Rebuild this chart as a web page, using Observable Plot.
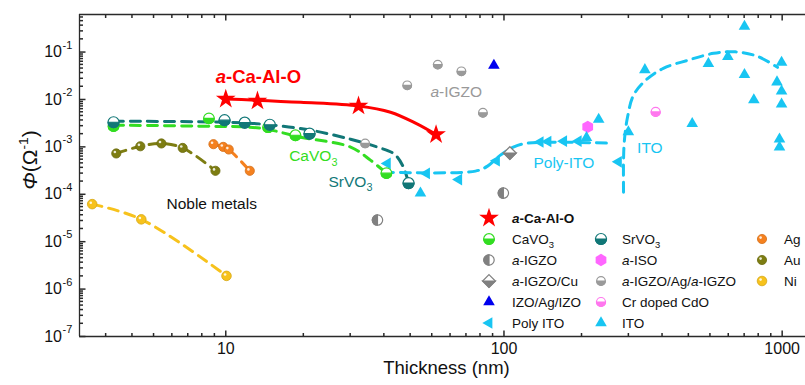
<!DOCTYPE html>
<html><head><meta charset="utf-8">
<script src="https://cdn.jsdelivr.net/npm/d3@7"></script>
<script src="https://cdn.jsdelivr.net/npm/@observablehq/plot@0.6"></script>
<style>
html,body{margin:0;padding:0;background:#fff;overflow:hidden;font-family:"Liberation Sans",Arial,sans-serif;}
#chart{position:relative;width:805px;height:385px;overflow:hidden;}
#chart svg{display:block;}
</style></head><body><div id="chart"></div>
<script>
// ---------- data (thickness nm, conductance Ω^-1) ----------
const caAlO     = [[10,0.0102],[13,0.0093],[30,0.0073],[57,0.00182]];
const caAlOFit  = [[10,0.0102],[18.6,0.00873],[30,0.0073],[39.1,0.00538],[48.1,0.00316],[57,0.00182]];
const caVO3     = [[3.95,0.00273],[8.7,0.0040],[14.2,0.0026],[17.8,0.00176],[37.8,0.000279]];
const caVO3Fit  = [[3.95,0.00286],[8.1,0.00273],[13.3,0.00248],[18.6,0.0016],[28.1,0.00099],[33.1,0.000525],[37.8,0.000279]];
const srVO3     = [[3.95,0.00331],[9.9,0.00365],[11.7,0.00324],[14.4,0.00293],[20,0.0019],[45.4,0.000172]];
const srVO3Fit  = [[3.95,0.00347],[10,0.00331],[13.7,0.0030],[20.2,0.00225],[28.1,0.00145],[35.1,0.000986],[40.4,0.0007],[43.5,0.000374],[45.4,0.000172]];
const igzo      = [[35.1,2.86e-5],[99.5,1.06e-4]];
const igzoCu    = [[105,7.4e-4]];
const izoAgIzo  = [[92,0.0525]];
const iso       = [[200,0.00264]];
const igzoAg    = [[31.7,0.00118],[44.9,0.0199],[57.8,0.0543],[70.3,0.0393],[84,0.00525]];
const crCdO     = [[351,0.00546]];
const polyITO   = [[38.1,4.48e-4],[52.7,2.76e-4],[68.8,2.04e-4],[94,5.1e-4],[135,1.27e-3],[144,1.3e-3],[164,1.32e-3],[185,1.32e-3],[258,4.83e-4]];
const polyITOFit= [[36.9,2.93e-4],[79,3.08e-4],[87.3,3.93e-4],[97.1,6.69e-4],[108,9.86e-4],[121.5,1.2e-3],[235,1.2e-3]];
const ito       = [[50.1,1.06e-4],[198,1.56e-3],[219,3.78e-3],[280,2.07e-3],[321,0.0422],[475,3.08e-3],[543,0.057],[638,0.080],[732,0.348],[732,0.0334],[791,9.77e-3],[958,0.0233],[995,0.0607],[995,0.0149],[995,7.93e-3],[978,1.45e-3],[978,9.86e-4]];
const itoFit    = [[269,1.11e-4],[269,5.25e-4],[271,1.38e-3],[278,4.22e-3],[292,0.0122],[323,0.0254],[374,0.0454],[457,0.0669],[567,0.094],[679,0.101],[815,0.0813],[962,0.0476]];
const ag        = [[9.03,1.14e-3],[9.79,1e-3],[10.25,8.8e-4],[12.2,3.13e-4]];
const au        = [[4.04,7.26e-4],[4.93,1.03e-3],[5.87,1.18e-3],[7.0,9.5e-4],[9.18,3.13e-4]];
const ni        = [[3.31,6.2e-5],[4.97,2.96e-5],[10.06,1.9e-6]];

// annotation texts and anchors (data units)
const annText = ["*a*-IGZO","CaVO_3","SrVO_3","Poly-ITO","ITO","Noble metals"];
const annX    = [54.4, 16.9, 23.4, 127.6, 301, 6.12];
const annY    = [0.0144, 6.37e-4, 1.85e-4, 4.47e-4, 9.25e-4, 6.2e-5];
const annCol  = ["#999999","#33dd22","#117777","#18c5f2","#18c5f2","#111111"];
const titleAnn = {text:"*a*-Ca-Al-O", x:9.2, y:0.0302};

// axis ticks / labels
const xDomain = [2.98, 1213];
const yDomain = [1e-7, 0.62];
const xMajor = [10, 100, 1000];
const yMajor = [1e-7,1e-6,1e-5,1e-4,1e-3,1e-2,1e-1];
const xDecades = [1,10,100,1000];
const yDecades = [1e-7,1e-6,1e-5,1e-4,1e-3,1e-2,1e-1];
const minorSteps = [1.9,2.8,3.7,4.6,5.5,6.4,7.3,8.2,9.1];
const xMinor = xDecades.flatMap(d => minorSteps.map(k => d*k)).filter(v => v > xDomain[0] && v < xDomain[1]);
const yMinor = yDecades.flatMap(d => minorSteps.map(k => d*k)).filter(v => v > yDomain[0] && v < yDomain[1]);

// colours
const C = {red:"#ff0000", green:"#33dd22", teal:"#117777", gray:"#808080", lgray:"#9a9a9a",
  blue:"#0000ee", mag:"#ff66ff", pink:"#ff77ee", cyan:"#18c5f2", ag:"#f5811f", au:"#7d7d12", ni:"#f7c21c"};

// ---------- symbols ----------
const S3 = Math.sqrt(3);
const rOf = s => Math.sqrt(s/Math.PI);
const symCircle = {draw(c,s){const r=rOf(s); c.moveTo(r,0); c.arc(0,0,r,0,2*Math.PI); c.closePath();}};
const symHalfBottom = {draw(c,s){const r=rOf(s); c.moveTo(r,0); c.arc(0,0,r,0,Math.PI); c.closePath();}};
const symHalfLeft = {draw(c,s){const r=rOf(s); c.moveTo(0,r); c.arc(0,0,r,Math.PI/2,1.5*Math.PI); c.closePath();}};
const symDiamond = {draw(c,s){const r=rOf(s)*1.2; c.moveTo(0,-r); c.lineTo(r,0); c.lineTo(0,r); c.lineTo(-r,0); c.closePath();}};
const symDiamondBottom = {draw(c,s){const r=rOf(s)*1.2; c.moveTo(-r,0); c.lineTo(r,0); c.lineTo(0,r); c.closePath();}};
const symTriUp = {draw(c,s){const h=rOf(s)*1.35; c.moveTo(0,-2*h/S3); c.lineTo(h,h/S3); c.lineTo(-h,h/S3); c.closePath();}};
const symTriLeft = {draw(c,s){const h=rOf(s)*1.35; c.moveTo(-2*h/S3,0); c.lineTo(h/S3,-h); c.lineTo(h/S3,h); c.closePath();}};
const symHex = {draw(c,s){const r=rOf(s); for(let i=0;i<6;i++){const a=Math.PI/3*i - Math.PI/2; const px=r*Math.cos(a), py=r*Math.sin(a); if(i) c.lineTo(px,py); else c.moveTo(px,py);} c.closePath();}};
const tickSym = (dx,dy) => ({draw(c){c.moveTo(0,0); c.lineTo(dx,dy);}});

// marker specs
const spec = {
  caAlO:  {kind:"solid", sym:d3.symbolStar, r:6.2, color:C.red},
  caVO3:  {kind:"half", sym:symCircle, half:symHalfBottom, r:5.3, color:C.green},
  srVO3:  {kind:"half", sym:symCircle, half:symHalfBottom, r:5.5, color:C.teal},
  igzo:   {kind:"half", sym:symCircle, half:symHalfLeft, r:5.2, color:C.gray},
  igzoCu: {kind:"half", sym:symDiamond, half:symDiamondBottom, r:5.3, color:C.gray},
  izo:    {kind:"solid", sym:symTriUp, r:4.3, color:C.blue},
  iso:    {kind:"solid", sym:symHex, r:6.2, color:C.mag},
  igzoAg: {kind:"half", sym:symCircle, half:symHalfBottom, r:4.3, color:C.lgray},
  crCdO:  {kind:"half", sym:symCircle, half:symHalfBottom, r:4.5, color:C.pink},
  poly:   {kind:"solid", sym:symTriLeft, r:4.3, color:C.cyan},
  ito:    {kind:"solid", sym:symTriUp, r:4.3, color:C.cyan},
  ag:     {kind:"ball", sym:symCircle, r:4.6, color:C.ag},
  au:     {kind:"ball", sym:symCircle, r:4.6, color:C.au},
  ni:     {kind:"ball", sym:symCircle, r:4.8, color:C.ni}
};

const XY = {x: d => d[0], y: d => d[1]};
function markers(data, sp){
  const b = {...XY, r: sp.r};
  if (sp.kind === "half") return [
    Plot.dot(data, {...b, symbol: sp.sym, fill:"white", stroke: sp.color, strokeWidth:1.2}),
    Plot.dot(data, {...b, symbol: sp.half, fill: sp.color, stroke: sp.color, strokeWidth:1.2})
  ];
  if (sp.kind === "ball") return [
    Plot.dot(data, {...b, symbol: sp.sym, fill: sp.color, stroke: d3.color(sp.color).darker(0.4).formatHex(), strokeWidth:0.8}),
    Plot.dot(data, {...XY, r:1.3, fill:"white", fillOpacity:0.85, dx:-1.4, dy:-1.4})
  ];
  return [Plot.dot(data, {...b, symbol: sp.sym, fill: sp.color, stroke:"none"})];
}
const dashLine = (data, color) => Plot.line(data, {...XY, stroke: color, strokeWidth:3, strokeDasharray:"10,7", curve:"catmull-rom"});

const FONT = "'Liberation Sans', Arial, Helvetica, sans-serif";
const AX = "#2a2a2a";

const plot = Plot.plot({
  width: 805, height: 385,
  marginLeft: 79, marginRight: 0, marginTop: 14, marginBottom: 49,
  x: {type:"log", domain: xDomain, axis: null},
  y: {type:"log", domain: yDomain, axis: null},
  style: {fontFamily: FONT, background:"white", overflow:"hidden"},
  marks: [
    // frame (left, bottom, top)
    Plot.ruleX([xDomain[0]], {stroke: AX, strokeWidth:1.3}),
    Plot.ruleY([yDomain[0]], {stroke: AX, strokeWidth:1.3}),
    Plot.ruleY([yDomain[1]], {stroke: AX, strokeWidth:1.3}),
    // ticks (inward)
    Plot.dot(yMajor, {y: d=>d, frameAnchor:"left", symbol: tickSym(6,0), stroke: AX, fill:"none", r:1}),
    Plot.dot(yMinor, {y: d=>d, frameAnchor:"left", symbol: tickSym(3.5,0), stroke: AX, fill:"none", r:1}),
    Plot.dot(xMajor, {x: d=>d, frameAnchor:"bottom", symbol: tickSym(0,-6), stroke: AX, fill:"none", r:1}),
    Plot.dot(xMinor, {x: d=>d, frameAnchor:"bottom", symbol: tickSym(0,-3.5), stroke: AX, fill:"none", r:1}),
    Plot.dot(xMajor, {x: d=>d, frameAnchor:"top", symbol: tickSym(0,6), stroke: AX, fill:"none", r:1}),
    Plot.dot(xMinor, {x: d=>d, frameAnchor:"top", symbol: tickSym(0,3.5), stroke: AX, fill:"none", r:1}),
    // tick labels
    Plot.text(xMajor, {x: d=>d, frameAnchor:"bottom", dy:17, text: d=>String(d), fontSize:16, fill:"#111"}),
    Plot.text(yMajor, {y: d=>d, frameAnchor:"left", dx:-17.5, text: ()=>"10", textAnchor:"end", fontSize:16, fill:"#111"}),
    Plot.text(yMajor, {y: d=>d, frameAnchor:"left", dx:-17, dy:-7, text: d=>String(Math.round(Math.log10(d))), textAnchor:"start", fontSize:11, fill:"#111"}),
    Plot.text(["Thickness (nm)"], {frameAnchor:"bottom", dx:4, dy:37, fontSize:18.5, fill:"#111"}),
    // fit lines
    dashLine(au, C.au),
    dashLine(ag, C.ag),
    dashLine(ni, C.ni),
    dashLine(caVO3Fit, C.green),
    dashLine(srVO3Fit, C.teal),
    dashLine(polyITOFit, C.cyan),
    dashLine(itoFit, C.cyan),
    Plot.line(caAlOFit, {...XY, stroke: C.red, strokeWidth:3, curve:"catmull-rom"}),
    // markers
    ...markers(ni, spec.ni), ...markers(au, spec.au), ...markers(ag, spec.ag),
    ...markers(igzo, spec.igzo), ...markers(igzoAg, spec.igzoAg), ...markers(igzoCu, spec.igzoCu),
    ...markers(izoAgIzo, spec.izo), ...markers(iso, spec.iso), ...markers(crCdO, spec.crCdO),
    ...markers(ito, spec.ito), ...markers(polyITO, spec.poly),
    ...markers(caVO3, spec.caVO3), ...markers(srVO3, spec.srVO3),
    ...markers(caAlO, spec.caAlO),
    // annotations
    ...annText.map((t,i) => Plot.text([t], {x: ()=>annX[i], y: ()=>annY[i], text: d=>d, textAnchor:"start", fontSize:15.5, fill: annCol[i], className:"rich"})),
    Plot.text([titleAnn], {x:"x", y:"y", text:"text", textAnchor:"start", fontSize:18.5, fontWeight:"bold", fill:C.red, className:"rich"})
  ]
});

// ---------- rich text helper: *italic*, _x subscript, ^{..} superscript ----------
function rich(sel, str, fs){
  sel.text(null);
  const re = /\*([^*]+)\*|_(.)|\^\{([^}]*)\}|([^*_^]+)/g;
  let m, shift = 0;
  while ((m = re.exec(str))){
    const t = sel.append("tspan");
    let dy = 0;
    if (m[1] !== undefined){ t.text(m[1]).attr("font-style","italic"); dy = -shift; shift = 0; }
    else if (m[2] !== undefined){ t.text(m[2]).attr("font-size", fs*0.7); dy = fs*0.3 - shift; shift = fs*0.3; }
    else if (m[3] !== undefined){ t.text(m[3]).attr("font-size", fs*0.65); dy = -fs*0.45 - shift; shift = -fs*0.45; }
    else { t.text(m[4]); dy = -shift; shift = 0; }
    if (dy) t.attr("dy", dy);
  }
}
const svg = d3.select(plot);
svg.selectAll("g.rich text").each(function(){
  const el = d3.select(this);
  const fs = parseFloat(d3.select(this.parentNode).attr("font-size")) || 15.5;
  rich(el, el.text(), fs);
});

// y-axis title
const yt = svg.append("text").attr("transform","translate(30,160) rotate(-90)")
  .attr("text-anchor","middle").attr("dy","0.35em").attr("font-size",21).attr("fill","#111").attr("font-family",FONT);
rich(yt, "*Φ*(Ω^{-1})", 21);

// ---------- legend ----------
const legLabels = ["**a-Ca-Al-O","CaVO_3","*a*-IGZO","*a*-IGZO/Cu","IZO/Ag/IZO","Poly ITO",
                   "SrVO_3","*a*-ISO","*a*-IGZO/Ag/*a*-IGZO","Cr doped CdO","ITO",
                   "Ag","Au","Ni"];
const legKeys = ["caAlO","caVO3","igzo","igzoCu","izo","poly","srVO3","iso","igzoAg","crCdO","ito","ag","au","ni"];
const legCol = [0,0,0,0,0,0,1,1,1,1,1,2,2,2];
const legRow = [0,1,2,3,4,5,1,2,3,4,5,1,2,3];
const colSym = [489, 601, 762], colTxt = [512, 622, 784];
const lg = svg.append("g").attr("font-family", FONT).attr("font-size", 13.5).attr("fill","#111").attr("text-anchor","start");
legKeys.forEach((k,i) => {
  const sp = spec[k], x = colSym[legCol[i]], y = 218 + 21*legRow[i];
  const size = Math.PI*sp.r*sp.r;
  const g = lg.append("g").attr("transform",`translate(${x},${y})`);
  if (sp.kind === "half"){
    g.append("path").attr("d", d3.symbol(sp.sym, size)()).attr("fill","white").attr("stroke",sp.color).attr("stroke-width",1.2);
    g.append("path").attr("d", d3.symbol(sp.half, size)()).attr("fill",sp.color).attr("stroke",sp.color).attr("stroke-width",1.2);
  } else if (sp.kind === "ball"){
    g.append("path").attr("d", d3.symbol(sp.sym, size)()).attr("fill",sp.color).attr("stroke", d3.color(sp.color).darker(0.4).formatHex()).attr("stroke-width",0.8);
    g.append("circle").attr("cx",-1.4).attr("cy",-1.4).attr("r",1.3).attr("fill","white").attr("fill-opacity",0.85);
  } else {
    g.append("path").attr("d", d3.symbol(sp.sym, size)()).attr("fill",sp.color);
  }
  const t = lg.append("text").attr("x", colTxt[legCol[i]]).attr("y", y).attr("dy","0.35em").attr("text-anchor","start");
  let lab = legLabels[i];
  if (lab.startsWith("**")){ t.attr("font-weight","bold"); lab = "*a*-Ca-Al-O"; }
  rich(t, lab, 13.5);
});

document.getElementById("chart").appendChild(plot);
</script></body></html>
